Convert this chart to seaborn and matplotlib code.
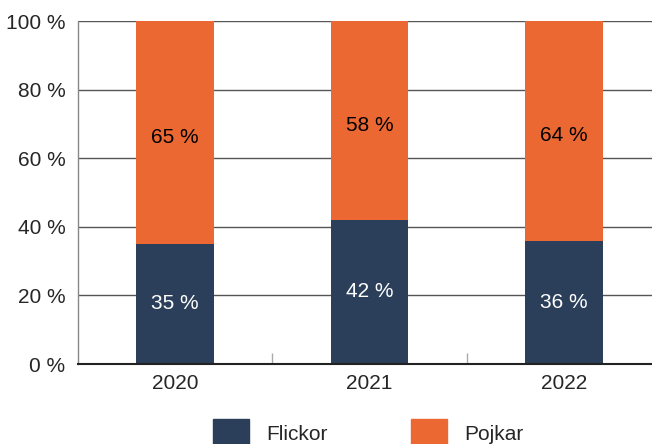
import pandas as pd
import numpy as np
import matplotlib
matplotlib.use("Agg")
import matplotlib.pyplot as plt
from matplotlib.patches import Patch
import seaborn as sns

# data
years = ["2020", "2021", "2022"]
flickor = [35, 42, 36]
pojkar = [65, 58, 64]
yticks = [0, 20, 40, 60, 80, 100]

navy = "#2b3f5a"
orange = "#eb6833"

sns.set_theme(style="white")
plt.rcParams['font.family'] = ['Liberation Sans', 'DejaVu Sans']

df = pd.DataFrame({"year": years, "Flickor": flickor, "Pojkar": pojkar})
df["total"] = df["Flickor"] + df["Pojkar"]

fig = plt.figure(figsize=(6.52, 4.44), dpi=100)
ax = fig.add_axes([78/652, 80/444, 583/652, 343/444])

sns.barplot(data=df, x="year", y="total", color=orange, width=0.4,
            saturation=1, ax=ax, zorder=2, linewidth=0)
sns.barplot(data=df, x="year", y="Flickor", color=navy, width=0.4,
            saturation=1, ax=ax, zorder=2, linewidth=0)

fs = 15
# etiketter
for i, (f, p) in enumerate(zip(flickor, pojkar)):
    ax.text(i, f / 2, f"{f} %", ha="center", va="center", color="white", fontsize=fs)
    ax.text(i, f + p / 2 - 1.5, f"{p} %", ha="center", va="center", color="black", fontsize=fs)

ax.set_ylim(0, 100)
ax.set_xlim(-0.5, 2.5)
ax.set_yticks(yticks)
ax.set_yticklabels([f"{t} %" for t in yticks], fontsize=fs)
ax.tick_params(axis="x", which="major", labelsize=fs, length=0, pad=7)
ax.tick_params(axis="y", length=0, pad=9)
ax.set_xlabel("")
ax.set_ylabel("")

ax.yaxis.grid(True, color="#555555", linewidth=1)
ax.set_axisbelow(True)
ax.set_xticks([0.5, 1.5], minor=True)
ax.tick_params(axis="x", which="minor", bottom=True, direction="in", length=8,
               color="#aaaaaa", width=1)

for s in ["top", "right"]:
    ax.spines[s].set_visible(False)
ax.spines["left"].set_color("#888888")
ax.spines["left"].set_linewidth(1)
ax.spines["bottom"].set_color("#222222")
ax.spines["bottom"].set_linewidth(1.5)

handles = [Patch(color=navy, label="Flickor"), Patch(color=orange, label="Pojkar")]
fig.legend(handles=handles, loc="center", bbox_to_anchor=(368/652, 1 - 433/444), ncol=2,
           frameon=False, fontsize=fs, handlelength=1.75, handleheight=1.75,
           columnspacing=4.0, handletextpad=0.8, borderaxespad=0)

fig.savefig("out.png", dpi=100)
